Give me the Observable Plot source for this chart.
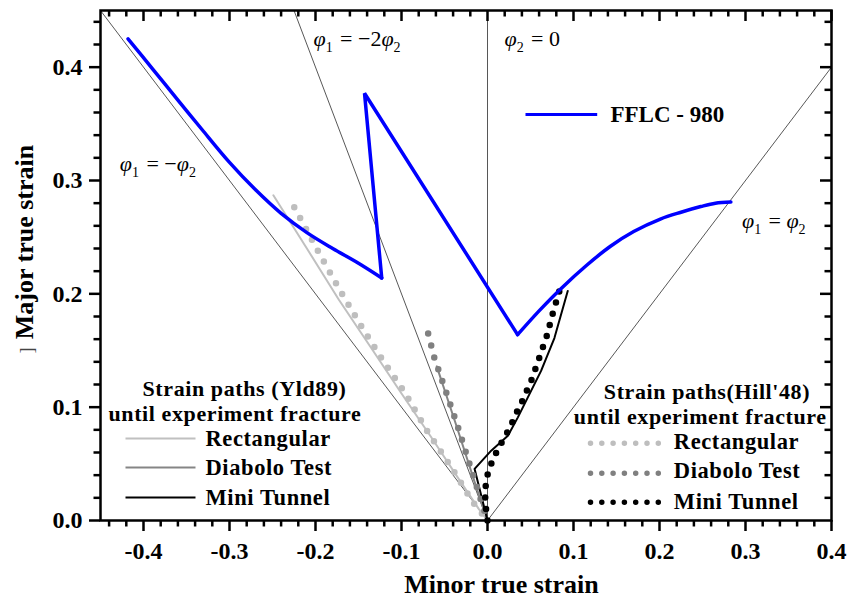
<!DOCTYPE html>
<html><head><meta charset="utf-8">
<script src="https://cdn.jsdelivr.net/npm/d3@7"></script>
<script src="https://cdn.jsdelivr.net/npm/@observablehq/plot@0.6"></script>
<style>
body{margin:0;background:#fff;}
.leg text{letter-spacing:0.6px;}
</style>
</head><body><div id="chart"></div>
<script>
// ---------- data ----------
// FFLC-980 (left branch, jump, right branch)
const fflcLeftX = [-0.418, -0.39, -0.36, -0.332, -0.30, -0.27, -0.24, -0.21, -0.18, -0.15, -0.123];
const fflcLeftY = [0.425, 0.399, 0.371, 0.345, 0.316, 0.292, 0.271, 0.254, 0.240, 0.227, 0.214];
const fflcMidX = [-0.123, -0.143, 0.035];
const fflcMidY = [0.214, 0.377, 0.164];
const fflcRightX = [0.035, 0.06, 0.086, 0.115, 0.143, 0.17, 0.201, 0.225, 0.248, 0.265, 0.283];
const fflcRightY = [0.164, 0.185, 0.205, 0.225, 0.242, 0.255, 0.266, 0.272, 0.277, 0.280, 0.281];

// Yld89 strain paths (solid)
const yldRectX = [-0.249, -0.21, -0.173, -0.135, -0.100, -0.065, -0.032, -0.010, 0];
const yldRectY = [0.287, 0.240, 0.195, 0.152, 0.112, 0.073, 0.035, 0.010, 0];
const yldDiabX = [-0.059, -0.035, -0.012, 0];
const yldDiabY = [0.136, 0.081, 0.027, 0];
const yldTunX = [0, -0.015, 0.0043, 0.0237, 0.0353, 0.0469, 0.0623, 0.0778, 0.0933];
const yldTunY = [0, 0.0455, 0.0616, 0.0748, 0.091, 0.1086, 0.132, 0.161, 0.2025];

// Hill'48 strain paths (dotted)
const hillRectX = [-0.2247, -0.195, -0.1718, -0.1474, -0.1214, -0.0963, -0.0692, -0.0421, -0.017, 0];
const hillRectY = [0.2765, 0.2348, 0.2034, 0.1723, 0.1409, 0.113, 0.0778, 0.047, 0.0161, 0];
const hillDiabX = [-0.069, -0.062, -0.048, -0.035, -0.023, -0.011, 0];
const hillDiabY = [0.165, 0.144, 0.113, 0.084, 0.055, 0.026, 0];
const hillTunX = [0, -0.002, -0.003, -0.0015, 0.001, 0.006, 0.012, 0.0197, 0.0267, 0.033, 0.039, 0.0507, 0.060, 0.069, 0.076, 0.0836];
const hillTunY = [0, 0.012, 0.025, 0.034, 0.044, 0.053, 0.063, 0.073, 0.083, 0.094, 0.103, 0.123, 0.143, 0.163, 0.183, 0.2025];

// strain-ratio guide lines (from origin to end point)
const guideLabels = ["φ1 = −φ2", "φ1 = −2φ2", "φ2 = 0", "φ1 = φ2"];
const guideEndX = [-0.45, -0.225, 0, 0.4];
const guideEndY = [0.45, 0.45, 0.45, 0.4];

const seriesNames = ["Rectangular", "Diabolo Test", "Mini Tunnel"];
const legendTitleYld = ["Strain paths (Yld89)", "until experiment fracture"];
const legendTitleHill = ["Strain paths(Hill'48)", "until experiment fracture"];
const fflcName = "FFLC - 980";
const xTitle = "Minor true strain";
const yTitle = "Major true strain";

const xMajor = [-0.4, -0.3, -0.2, -0.1, 0, 0.1, 0.2, 0.3, 0.4];
const yMajor = [0, 0.1, 0.2, 0.3, 0.4];

// ---------- layout / style ----------
const W = 861, H = 598, mL = 100, mR = 30, mT = 10, mB = 78;
const xDom = [-0.45, 0.4], yDom = [0, 0.45];
const pxX = (W - mL - mR) / (xDom[1] - xDom[0]);
const pxY = (H - mT - mB) / (yDom[1] - yDom[0]);
const MAJ = 11, MIN = 6.5;
const py = p => (H - mB - p) / pxY;   // pixel row -> data y (for legend placement)
const px = p => xDom[0] + (p - mL) / pxX; // pixel column -> data x

const solidGreys = ["#c0c0c0", "#858585", "#000000"];
const dotGreys = ["#bebebe", "#808080", "#000000"];
const guideLabelX = [-0.3822, -0.1506, 0.052, 0.334];
const guideLabelY = [0.315, 0.4253, 0.4253, 0.2647];
const isMajor = v => Math.abs(v * 10 - Math.round(v * 10)) < 1e-6;
const xMinor = d3.range(-44, 41, 2).map(d => d / 100).filter(v => !isMajor(v));
const yMinor = d3.range(2, 45, 2).map(d => d / 100).filter(v => !isMajor(v));
const fmt = d => (d < 0 ? "-" : "") + Math.abs(d).toFixed(1);
const pts = (X, Y) => X.map((x, i) => ({x, y: Y[i]}));
const yldSeries = [pts(yldRectX, yldRectY), pts(yldDiabX, yldDiabY), pts(yldTunX, yldTunY)];
const hillSeries = [pts(hillRectX, hillRectY), pts(hillDiabX, hillDiabY), pts(hillTunX, hillTunY)];
const guides = guideLabels.map((t, i) => ({t, x2: guideEndX[i], y2: guideEndY[i], lx: guideLabelX[i], ly: guideLabelY[i]}));

// legend placement
const legL = {x1: px(125), x2: px(195), tx: px(205), ys: [438, 467, 497].map(py), hx: [px(142), px(108)], hy: [388.5, 413].map(py)};
const legR = {x1: px(590), x2: px(658), tx: px(673.3), ys: [442.7, 472.7, 501.7].map(py), tys: [441.5, 470.3, 501].map(py), hx: [px(603.3), px(573.3)], hy: [391.5, 416.5].map(py)};

const bold = {fontWeight: "bold"};
const marks = [
  // guide lines
  Plot.link(guides, {x1: 0, y1: 0, x2: "x2", y2: "y2", stroke: "#444", strokeWidth: 0.9}),
  Plot.text(guides, {x: "lx", y: "ly", text: "t", fontSize: 22, className: "phi"}),
  // Yld89 solid
  ...yldSeries.map((s, i) => Plot.line(s, {x: "x", y: "y", stroke: solidGreys[i], strokeWidth: 2})),
  // Hill'48 dotted
  ...hillSeries.map((s, i) => Plot.line(s, {x: "x", y: "y", stroke: dotGreys[i], strokeWidth: 6.5, strokeLinecap: "round", strokeDasharray: i === 2 ? "0 11.6" : "0 12.4"})),
  // FFLC
  Plot.line(pts(fflcLeftX, fflcLeftY), {x: "x", y: "y", stroke: "#0000ff", strokeWidth: 3.5, curve: "catmull-rom"}),
  Plot.line(pts(fflcMidX, fflcMidY), {x: "x", y: "y", stroke: "#0000ff", strokeWidth: 3.5, strokeLinejoin: "miter"}),
  Plot.line(pts(fflcRightX, fflcRightY), {x: "x", y: "y", stroke: "#0000ff", strokeWidth: 3.5, curve: "catmull-rom"}),
  // FFLC legend
  Plot.link([fflcName], {x1: px(525), x2: px(596.7), y1: py(114), y2: py(114), stroke: "#0000ff", strokeWidth: 3}),
  Plot.text([fflcName], {x: px(610), y: py(114), textAnchor: "start", fontSize: 23, ...bold}),
  // left legend
  Plot.text(legendTitleYld, {x: (d, i) => legL.hx[i], y: (d, i) => legL.hy[i], textAnchor: "start", fontSize: 22, className: "leg", ...bold}),
  Plot.link(seriesNames, {x1: legL.x1, x2: legL.x2, y1: (d, i) => legL.ys[i], y2: (d, i) => legL.ys[i], stroke: (d, i) => solidGreys[i], strokeWidth: 2}),
  Plot.text(seriesNames, {x: legL.tx, y: (d, i) => legL.ys[i], textAnchor: "start", fontSize: 22.5, className: "leg", ...bold}),
  // right legend
  Plot.text(legendTitleHill, {x: (d, i) => legR.hx[i], y: (d, i) => legR.hy[i], textAnchor: "start", fontSize: 22, className: "leg", ...bold}),
  ...seriesNames.map((d, i) => Plot.link([d], {x1: legR.x1, x2: legR.x2, y1: legR.ys[i], y2: legR.ys[i], stroke: dotGreys[i], strokeWidth: 5.5, strokeLinecap: "round", strokeDasharray: "0 11.3"})),
  Plot.text(seriesNames, {x: legR.tx, y: (d, i) => legR.tys[i], textAnchor: "start", fontSize: 22.5, className: "leg", ...bold}),
  // frame and axes
  Plot.frame({stroke: "#000", strokeWidth: 2.5}),
  Plot.axisX(xMajor, {anchor: "bottom", tickSize: MAJ, tickPadding: 10, strokeWidth: 2.5, tickFormat: fmt, fontSize: 24, fontWeight: "bold", label: null}),
  Plot.axisX(xMinor, {anchor: "bottom", tickSize: MIN, strokeWidth: 2.5, tickFormat: () => "", label: null}),
  Plot.axisY(yMajor, {anchor: "left", tickSize: MAJ, tickPadding: 7, strokeWidth: 2.5, tickFormat: fmt, fontSize: 24, fontWeight: "bold", label: null}),
  Plot.axisY(yMinor, {anchor: "left", tickSize: MIN, strokeWidth: 2.5, tickFormat: () => "", label: null}),
  // inward ticks on top and right edges
  Plot.ruleX(xMajor, {x: d => d, y1: yDom[1], y2: yDom[1] - MAJ / pxY, stroke: "#000", strokeWidth: 2.5}),
  Plot.ruleX(xMinor, {x: d => d, y1: yDom[1], y2: yDom[1] - MIN / pxY, stroke: "#000", strokeWidth: 2.5}),
  Plot.ruleY(yMajor.filter(v => v > 0), {y: d => d, x1: xDom[1], x2: xDom[1] - MAJ / pxX, stroke: "#000", strokeWidth: 2.5}),
  Plot.ruleY(yMinor, {y: d => d, x1: xDom[1], x2: xDom[1] - MIN / pxX, stroke: "#000", strokeWidth: 2.5}),
  // axis titles
  Plot.text([xTitle], {frameAnchor: "bottom", textAnchor: "middle", lineAnchor: "middle", dx: 35.5, dy: 64, fontSize: 26, ...bold}),
  Plot.text([yTitle], {frameAnchor: "left", textAnchor: "middle", lineAnchor: "middle", rotate: -90, dx: -76, dy: -23.5, fontSize: 26, ...bold}),
  Plot.text(["]"], {frameAnchor: "left", textAnchor: "middle", lineAnchor: "middle", rotate: -90, dx: -73, dy: 85, fontSize: 18, fill: "#444"})
];

const chart = Plot.plot({
  width: W, height: H,
  marginLeft: mL, marginRight: mR, marginTop: mT, marginBottom: mB,
  x: {domain: xDom},
  y: {domain: yDom},
  style: {fontFamily: "'Liberation Serif', 'Times New Roman', serif", fontSize: "22px", background: "#fff", color: "#000", overflow: "visible"},
  marks
});
document.getElementById("chart").appendChild(chart);

// enforce tick label font
d3.select(chart).selectAll('g[aria-label="x-axis tick label"], g[aria-label="y-axis tick label"]')
  .attr("font-size", 24).attr("font-weight", "bold");

// subscripts for the φ labels
d3.select(chart).selectAll(".phi text").each(function () {
  const s = this.textContent;
  const el = d3.select(this);
  el.text(null);
  for (let k = 0; k < s.length; k++) {
    const c = s[k];
    if (c === "φ") {
      el.append("tspan").attr("font-style", "italic").text("φ");
      const n = s[k + 1];
      if (n && /[0-9]/.test(n)) {
        el.append("tspan").attr("dy", 6).attr("font-size", 14).text(n);
        el.append("tspan").attr("dy", -6).text("\u200A");
        k++;
      }
    } else {
      el.append("tspan").text(c);
    }
  }
});
</script></body></html>
